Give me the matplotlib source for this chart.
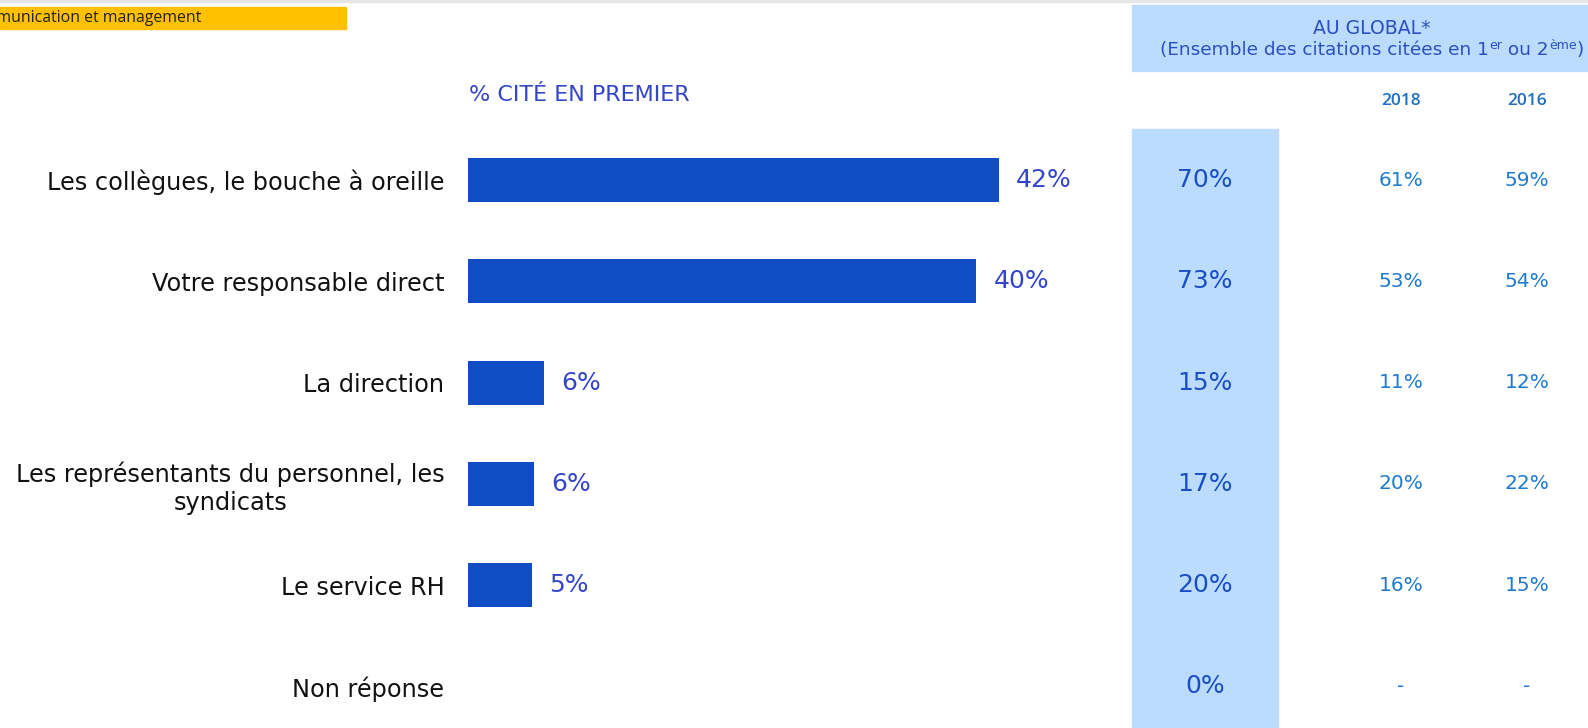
import matplotlib
matplotlib.use("Agg")
import matplotlib.pyplot as plt
from matplotlib.transforms import blended_transform_factory
from matplotlib.patches import Rectangle

plt.rcParams['font.family'] = ['DejaVu Sans']

# ---------------- data ----------------
categories = [
    "Les collègues, le bouche à oreille",
    "Votre responsable direct",
    "La direction",
    "Les représentants du personnel, les\nsyndicats",
    "Le service RH",
    "Non réponse",
]
first_cited = [41.8, 40.0, 6.0, 5.2, 5.0, 0.0]
first_cited_labels = ["42%", "40%", "6%", "6%", "5%", ""]
global_values = ["70%", "73%", "15%", "17%", "20%", "0%"]
values_2018 = ["61%", "53%", "11%", "20%", "16%", "-"]
values_2016 = ["59%", "54%", "12%", "22%", "15%", "-"]
years = ["2018", "2016"]

# ---------------- figure ----------------
W, H = 1588, 728
fig = plt.figure(figsize=(W / 100, H / 100), dpi=100)

BAR_COLOR = "#104cc4"
LABEL_COLOR = "#3346c8"
GLOBAL_COLOR = "#1a4fc4"
YEAR_VAL_COLOR = "#1f7ad0"
LIGHT_BLUE = "#bbdcff"

# top grey line and yellow title box
fig.patches.append(Rectangle((0, 1 - 2 / H), 1, 2 / H, transform=fig.transFigure,
                             color="#e6e6e6", zorder=-1))
fig.patches.append(Rectangle((0, 1 - 29 / H), 346 / W, 22 / H, transform=fig.transFigure,
                             color="#ffc000", zorder=-1))
fig.text(201 / W, 1 - 18 / H, "Communication et management", ha="right", va="center",
         fontsize=11.4, family="Open Sans", color="#222222")

# light-blue global column and header
fig.patches.append(Rectangle((1132 / W, 0), 146 / W, 1 - 128.6 / H, transform=fig.transFigure,
                             color=LIGHT_BLUE, zorder=-1))
fig.patches.append(Rectangle((1132 / W, 1 - 71 / H), (W - 1132) / W, 66 / H,
                             transform=fig.transFigure, color=LIGHT_BLUE, zorder=-1))

# bar axes
x0 = 468
px_per_pct = 12.7
ax = fig.add_axes([x0 / W, 0, (W - x0) / W, 1])
ax.set_xlim(0, (W - x0) / px_per_pct)
row0, step = 180.0, 101.3
ax.set_ylim((H - row0) / step, -row0 / step)
ax.patch.set_alpha(0)
for s in ax.spines.values():
    s.set_visible(False)
ax.set_xticks([])

ypos = list(range(len(categories)))
bars = ax.barh(ypos, first_cited, height=0.434, color=BAR_COLOR, zorder=2)
ax.set_yticks(ypos)
ax.set_yticklabels(categories, fontsize=17.3, color="#111111", multialignment="center")
ax.tick_params(axis="y", length=0, pad=17)

for y, v, lab in zip(ypos, first_cited, first_cited_labels):
    if lab:
        ax.annotate(lab, xy=(v, y), xytext=(12.5, 0), textcoords="offset points",
                    ha="left", va="center", fontsize=18, color=LABEL_COLOR)

ax.text(0.05, -row0 / step + 95 / step, "% CITÉ EN PREMIER", ha="left", va="center",
        fontsize=16, color=LABEL_COLOR)

# other columns
tr = blended_transform_factory(fig.transFigure, ax.transData)
for y, g, a, b in zip(ypos, global_values, values_2018, values_2016):
    ax.text(1205 / W, y, g, transform=tr, ha="center", va="center", fontsize=18,
            color=GLOBAL_COLOR)
    ax.text(1401 / W, y, a, transform=tr, ha="center", va="center", fontsize=14.5,
            color=YEAR_VAL_COLOR)
    ax.text(1527 / W, y, b, transform=tr, ha="center", va="center", fontsize=14.5,
            color=YEAR_VAL_COLOR)

for xc, yr in zip([1401, 1527], years):
    fig.text(xc / W, 1 - 101 / H, yr, ha="center", va="center", fontsize=12.5,
             family="Open Sans", weight="semibold", color="#1f6fc0")

# header text
HEAD_COLOR = "#2a4fc0"
fig.text(1372 / W, 1 - 28.5 / H, "AU GLOBAL*", ha="center", va="center", fontsize=13.6,
         color=HEAD_COLOR)

parts = [("(Ensemble des citations citées en 1", False), ("er", True), (" ou 2", False),
         ("ème", True), (")", False)]
fig.canvas.draw()
renderer = fig.canvas.get_renderer()
texts = []
total = 0
for s, sup in parts:
    t = fig.text(0, 0, s, fontsize=9 if sup else 13.3, color=HEAD_COLOR)
    w = t.get_window_extent(renderer).width
    texts.append((t, sup, w))
    total += w
xcur = 1372 - total / 2
base_y = 1 - 55 / H
for t, sup, w in texts:
    t.set_position((xcur / W, base_y + (6 / H if sup else 0)))
    t.set_va("baseline")
    xcur += w

fig.savefig("out.png", dpi=100)
